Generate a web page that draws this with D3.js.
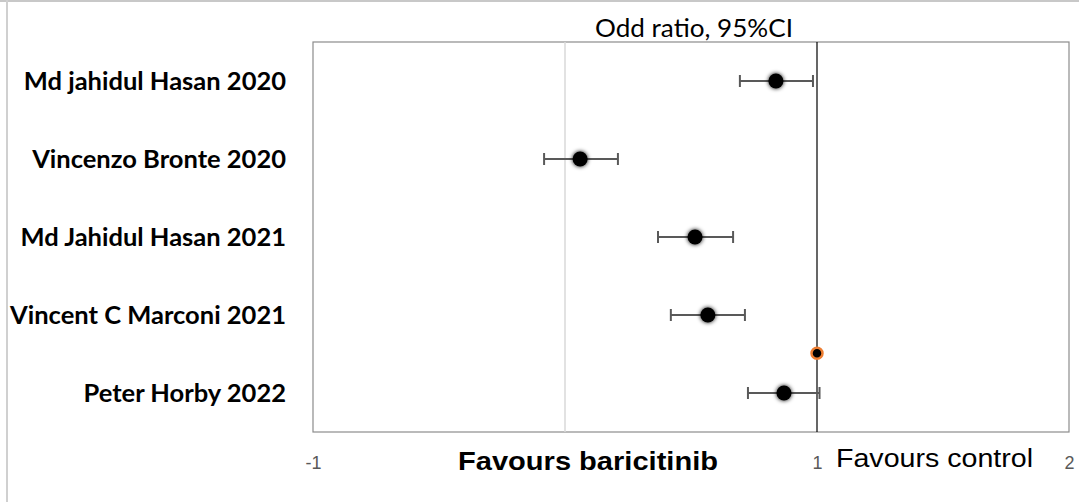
<!DOCTYPE html>
<html>
<head>
  <meta charset="utf-8">
  <title>Forest plot</title>
  <script src="https://d3js.org/d3.v7.min.js"></script>
  <style>
    body { margin: 0; background: #fff; }
  </style>
</head>
<body>
<svg width="1079" height="502" id="chart"></svg>
<script>
// study data (odds ratio and 95% CI)
var studies = ["Md jahidul Hasan 2020", "Vincenzo Bronte 2020", "Md Jahidul Hasan 2021",
               "Vincent C Marconi 2021", "Peter Horby 2022"];
var rowPos  = [4.5, 3.5, 2.5, 1.5, 0.5];
var oddRatio = [0.837, 0.06, 0.516, 0.567, 0.869];
var ciLow    = [0.694, -0.083, 0.369, 0.42, 0.726];
var ciHigh   = [0.984, 0.21, 0.667, 0.714, 1.01];
var refPoint = [{x: 1, y: 1.01}];
var xTicks = [-1, 1, 2];

var margin = {top: 42, right: 10, bottom: 70, left: 313},
    width = 1069 - margin.left,
    height = 432 - margin.top;

var svg = d3.select("#chart");

// outer frame
svg.append("line").attr("x1", 0).attr("x2", 1079).attr("y1", 1).attr("y2", 1)
  .attr("stroke", "#c8c8c8").attr("stroke-width", 2);
svg.append("line").attr("x1", 7).attr("x2", 7).attr("y1", 0).attr("y2", 502)
  .attr("stroke", "#d0d0d0").attr("stroke-width", 2);

var x = d3.scaleLinear().domain([-1, 2]).range([0, width]);
var y = d3.scaleLinear().domain([0, 5]).range([height, 0]);

var defs = svg.append("defs");
var f = defs.append("filter").attr("id", "glow")
  .attr("x", "-60%").attr("y", "-60%").attr("width", "220%").attr("height", "220%");
f.append("feGaussianBlur").attr("in", "SourceAlpha").attr("stdDeviation", 2.2).attr("result", "b");
f.append("feMerge").selectAll("feMergeNode").data(["b", "SourceGraphic"]).enter()
  .append("feMergeNode").attr("in", function(d) { return d; });

var g = svg.append("g").attr("transform", "translate(" + margin.left + "," + margin.top + ")");

// plot box
g.append("rect").attr("x", 0).attr("y", 0).attr("width", width).attr("height", height)
  .attr("fill", "none").attr("stroke", "#8c8c8c").attr("stroke-width", 1.2);

// zero line and line of no effect
g.append("line").attr("x1", x(0)).attr("x2", x(0)).attr("y1", 0).attr("y2", height)
  .attr("stroke", "#d9d9d9").attr("stroke-width", 1.5);
g.append("line").attr("x1", x(1)).attr("x2", x(1)).attr("y1", 0).attr("y2", height)
  .attr("stroke", "#000").attr("stroke-width", 1.2);

// x axis tick labels
var xAxis = g.append("g").attr("transform", "translate(0," + height + ")")
  .call(d3.axisBottom(x).tickValues(xTicks).tickSize(0).tickPadding(24)
    .tickFormat(function(d) { return String(d); }));
xAxis.select(".domain").remove();
xAxis.selectAll("text").attr("fill", "#595959").style("font-family", "Liberation Sans, Arial, sans-serif")
  .style("font-size", "18px");

var rows = studies.map(function(s, i) {
  return {name: s, y: rowPos[i], or: oddRatio[i], lo: ciLow[i], hi: ciHigh[i]};
});

// error bars
var eb = g.selectAll(".eb").data(rows).enter().append("g").attr("class", "eb")
  .attr("stroke", "#595959").attr("stroke-width", 2);
eb.append("line").attr("x1", function(d) { return x(d.lo); }).attr("x2", function(d) { return x(d.hi); })
  .attr("y1", function(d) { return y(d.y); }).attr("y2", function(d) { return y(d.y); });
eb.append("line").attr("x1", function(d) { return x(d.lo); }).attr("x2", function(d) { return x(d.lo); })
  .attr("y1", function(d) { return y(d.y) - 6; }).attr("y2", function(d) { return y(d.y) + 6; });
eb.append("line").attr("x1", function(d) { return x(d.hi); }).attr("x2", function(d) { return x(d.hi); })
  .attr("y1", function(d) { return y(d.y) - 6; }).attr("y2", function(d) { return y(d.y) + 6; });

// points
g.selectAll(".pt").data(rows).enter().append("circle").attr("class", "pt")
  .attr("cx", function(d) { return x(d.or); }).attr("cy", function(d) { return y(d.y); })
  .attr("r", 7.5).attr("fill", "#000").attr("filter", "url(#glow)");

g.selectAll(".ref").data(refPoint).enter().append("circle").attr("class", "ref")
  .attr("cx", function(d) { return x(d.x); }).attr("cy", function(d) { return y(d.y); })
  .attr("r", 5.5).attr("fill", "#000").attr("stroke", "#ed7d31").attr("stroke-width", 2.5);

// study labels
g.selectAll(".lab").data(rows).enter().append("text").attr("class", "lab")
  .attr("x", -27).attr("y", function(d) { return y(d.y); }).attr("dy", "0.36em")
  .attr("text-anchor", "end").style("font-family", "Lato, 'Open Sans', sans-serif")
  .style("font-weight", "bold").style("font-size", "25.5px").attr("fill", "#000")
  .text(function(d) { return d.name; });

// titles
svg.append("text").attr("x", 595).attr("y", 37)
  .style("font-family", "Lato, 'Open Sans', sans-serif").style("font-size", "25px")
  .attr("textLength", 198).attr("lengthAdjust", "spacingAndGlyphs")
  .text("Odd ratio, 95%CI");
svg.append("text").attr("x", 458).attr("y", 470)
  .style("font-family", "Liberation Sans, Arial, sans-serif").style("font-weight", "bold").style("font-size", "25px")
  .attr("textLength", 260).attr("lengthAdjust", "spacingAndGlyphs")
  .text("Favours baricitinib");
svg.append("text").attr("x", 836).attr("y", 467)
  .style("font-family", "Liberation Sans, Arial, sans-serif").style("font-size", "25px")
  .attr("textLength", 197).attr("lengthAdjust", "spacingAndGlyphs")
  .text("Favours control");
</script>
</body>
</html>
